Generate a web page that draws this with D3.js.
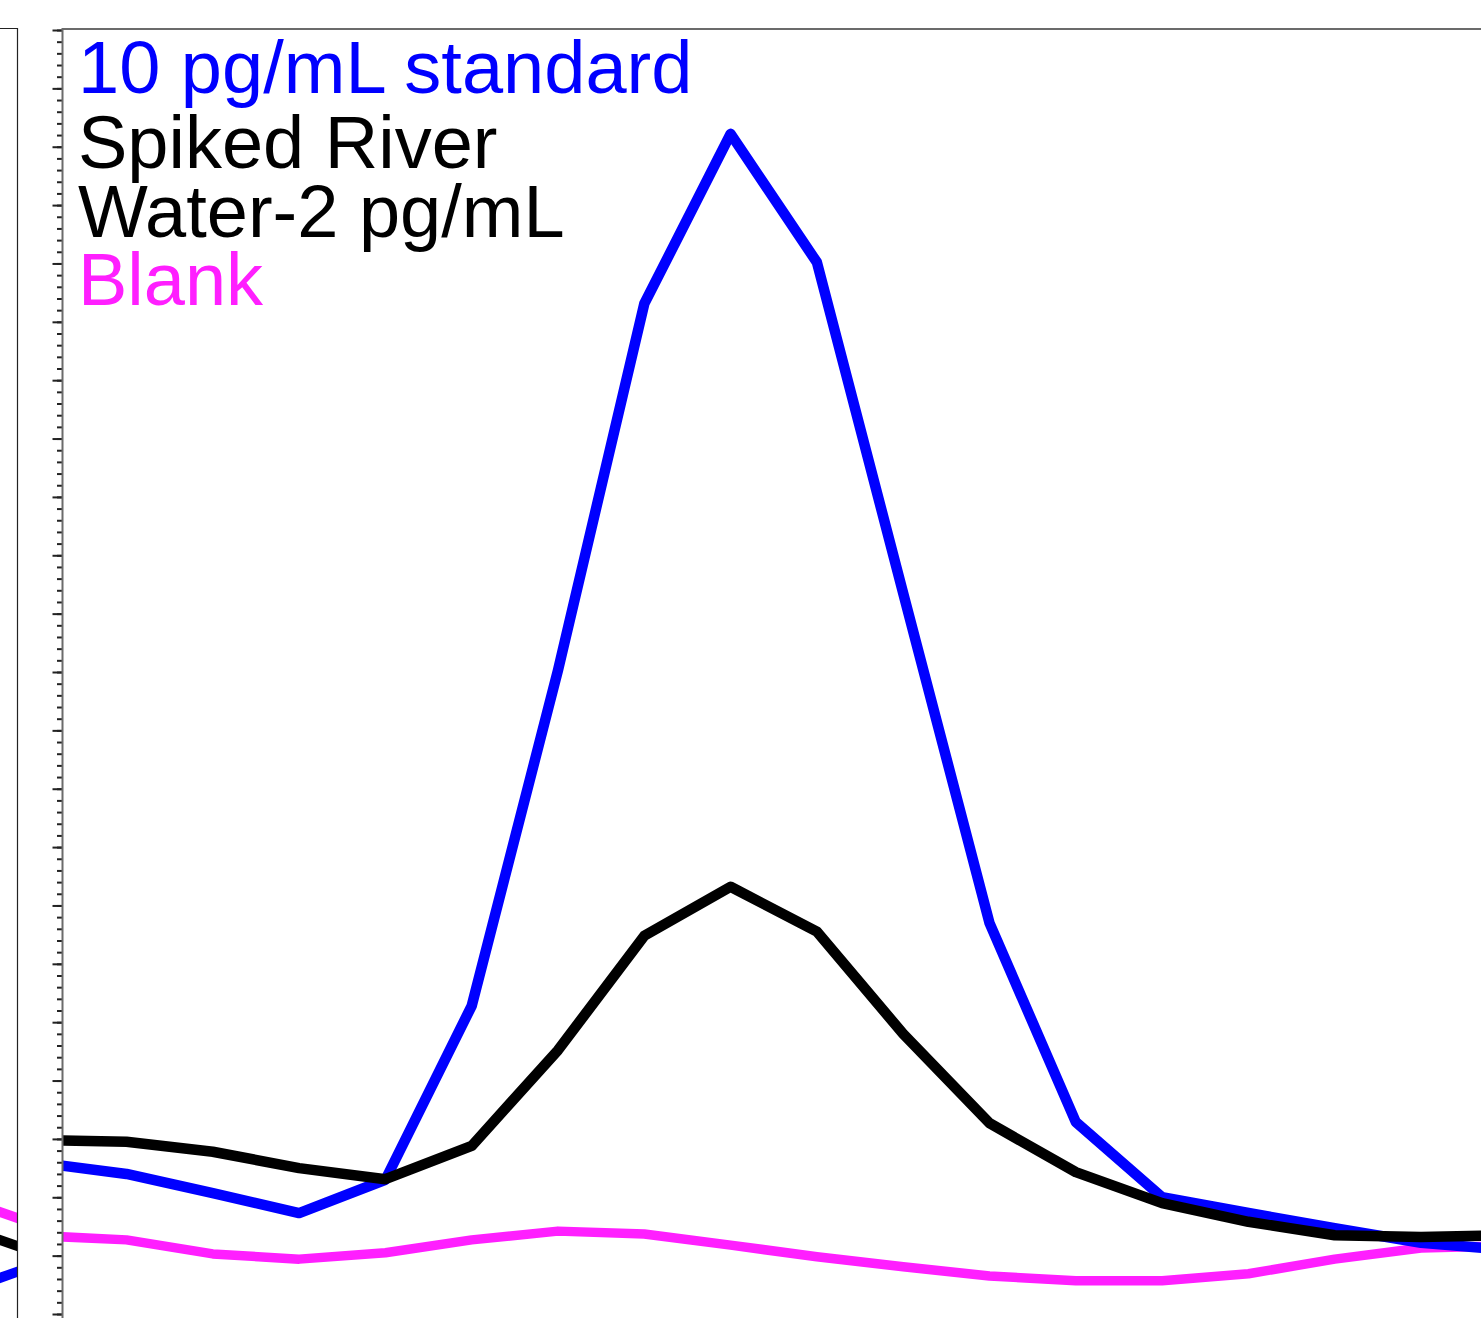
<!DOCTYPE html>
<html>
<head>
<meta charset="utf-8">
<script src="https://cdn.jsdelivr.net/npm/d3@7"></script>
<style>
  body { margin: 0; background: white; }
  svg { display: block; }
</style>
</head>
<body>
<div id="chart"></div>
<script>
// data (fraction index vs. signal)
var fractions = d3.range(0, 18);
var standard10 = [2.59, 2.40, 2.07, 1.73, 2.30, 5.28, 11.03, 17.31, 20.22, 18.02, 12.35, 6.70, 3.29, 2.00, 1.73, 1.47, 1.22, 1.10];
var spikedRiver = [2.98, 2.95, 2.78, 2.50, 2.31, 2.88, 4.52, 6.48, 7.32, 6.55, 4.80, 3.27, 2.43, 1.90, 1.58, 1.35, 1.32, 1.35];
var blank = [1.34, 1.27, 1.03, 0.94, 1.05, 1.27, 1.42, 1.37, 1.18, 0.98, 0.81, 0.65, 0.57, 0.57, 0.69, 0.94, 1.13, 1.17];

// neighbouring panel on the left, only its last two points show
var leftFractions = [16, 17];
var leftStandard = [0.22, 0.74];
var leftSpiked = [1.66, 1.15];
var leftBlank = [2.14, 1.63];

var legendLabels = ["10 pg/mL standard", "Spiked River", "Water-2 pg/mL", "Blank"];
var legendColors = ["#0000ff", "#000000", "#000000", "#ff1fff"];

var w = 1481;
var h = 1318;
var svg = d3.select("#chart").append("svg")
    .attr("width", w)
    .attr("height", h);

var y = d3.scaleLinear().domain([0, 22]).range([1314, 30]);
var x = d3.scaleLinear().domain([0, 17]).range([40.2, 40.2 + 86.3 * 17]);
var xLeft = d3.scaleLinear().domain([16, 17]).range([-66, 20]);

// clip areas
var defs = svg.append("defs");
defs.append("clipPath").attr("id", "clipMain")
  .append("rect").attr("x", 63).attr("y", 29).attr("width", w).attr("height", h);
defs.append("clipPath").attr("id", "clipLeft")
  .append("rect").attr("x", 0).attr("y", 28).attr("width", 18).attr("height", h);

// left panel
var left = svg.append("g");
var lineL = d3.line().x(function(d, i){ return xLeft(leftFractions[i]); }).y(function(d){ return y(d); });
var leftSeries = [[leftBlank, "#ff1fff"], [leftStandard, "#0000ff"], [leftSpiked, "#000000"]];
left.append("g").attr("clip-path", "url(#clipLeft)")
  .selectAll("path")
  .data(leftSeries)
  .join("path")
    .attr("d", function(d){ return lineL(d[0]); })
    .attr("fill", "none")
    .attr("stroke", function(d){ return d[1]; })
    .attr("stroke-width", 10);
left.append("path")
  .attr("d", "M0,28.5H17.5V" + h)
  .attr("fill", "none")
  .attr("stroke", "#222")
  .attr("stroke-width", 1.2);

// main panel
var line = d3.line().x(function(d, i){ return x(fractions[i]); }).y(function(d){ return y(d); });
var series = [
  {vals: blank, color: "#ff1fff", width: 9.5},
  {vals: standard10, color: "#0000ff", width: 10.5},
  {vals: spikedRiver, color: "#000000", width: 10.5}
];
svg.append("g").attr("clip-path", "url(#clipMain)")
  .selectAll("path")
  .data(series)
  .join("path")
    .attr("d", function(d){ return line(d.vals); })
    .attr("fill", "none")
    .attr("stroke", function(d){ return d.color; })
    .attr("stroke-width", function(d){ return d.width; })
    .attr("stroke-linejoin", "round");

// top frame
svg.append("line")
  .attr("x1", 62).attr("x2", w)
  .attr("y1", 29).attr("y2", 29)
  .attr("stroke", "#6b6b6b")
  .attr("stroke-width", 2);

// y axis, minor then major ticks, no labels
var minorAxis = d3.axisLeft(y)
  .tickValues(d3.range(0, 22.01, 0.2))
  .tickSize(5)
  .tickFormat("");
var majorAxis = d3.axisLeft(y)
  .tickValues(d3.range(0, 23, 1))
  .tickSize(9.5)
  .tickFormat("");
var gMinor = svg.append("g").attr("transform", "translate(62,0)").call(minorAxis);
var gMajor = svg.append("g").attr("transform", "translate(62,0)").call(majorAxis);
gMinor.select(".domain").remove();
gMajor.select(".domain").remove();
svg.selectAll(".tick line").attr("stroke", "#222").attr("stroke-width", 2);
svg.append("line")
  .attr("x1", 62.5).attr("x2", 62.5)
  .attr("y1", 28).attr("y2", h)
  .attr("stroke", "#6b6b6b")
  .attr("stroke-width", 2);

// legend text
var legendY = [93, 168, 237, 305];
svg.append("g")
  .selectAll("text")
  .data(legendLabels)
  .join("text")
    .attr("x", 78)
    .attr("y", function(d, i){ return legendY[i]; })
    .attr("fill", function(d, i){ return legendColors[i]; })
    .style("font-family", "'Liberation Sans', Arial, sans-serif")
    .style("font-size", "74px")
    .text(function(d){ return d; });
</script>
</body>
</html>
